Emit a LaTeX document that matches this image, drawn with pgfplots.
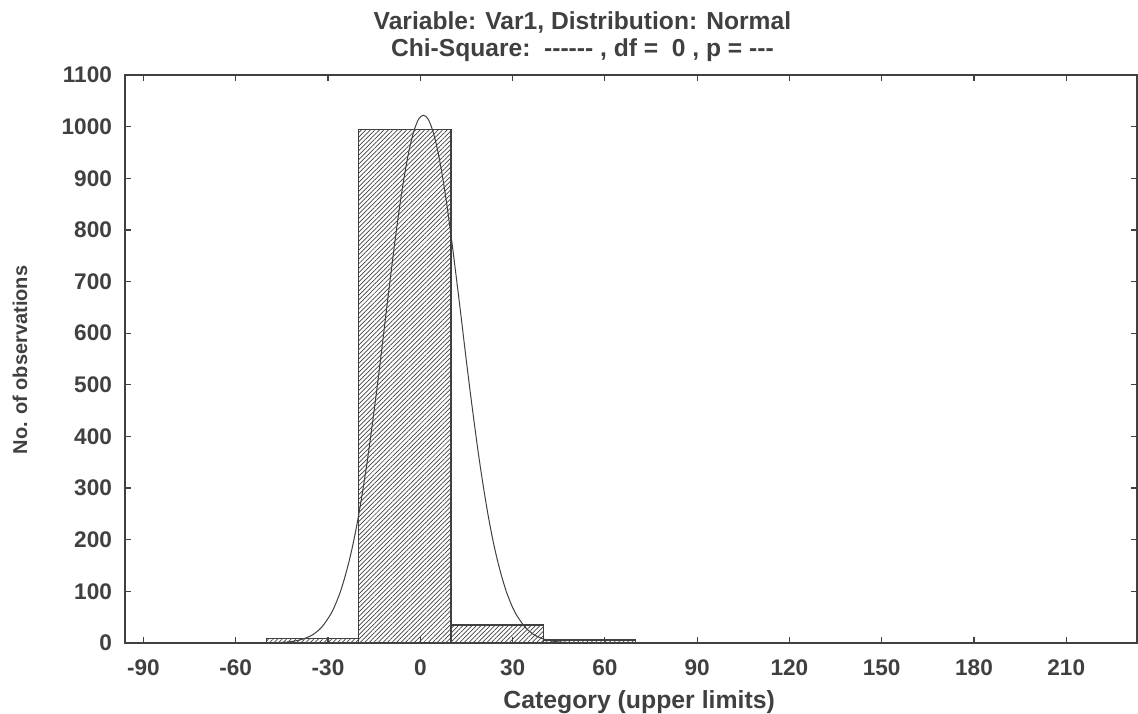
\documentclass[border=0pt]{standalone}
\usepackage{fontspec}
\setmainfont{Liberation Sans}
\usepackage{pgfplots}
\pgfplotsset{compat=1.18}
\usetikzlibrary{patterns.meta}
\definecolor{ink}{HTML}{404040}
\begin{document}
\begin{tikzpicture}
\begin{axis}[
  scale only axis,
  width=506pt, height=284pt,
  xmin=-96, xmax=233,
  ymin=0, ymax=1100,
  xtick={-90,-60,...,210},
  ytick={0,100,...,1100},
  tick align=inside,
  major tick length=3pt,
  axis line style={ink, line width=0.7pt},
  tick style={ink, line width=0.6pt},
  /pgf/number format/assume math mode=true,
  /pgf/number format/1000 sep={},
  ticklabel style={font=\fontsize{11.3}{13}\selectfont\bfseries, text=ink},
  yticklabel style={xshift=-3pt},
  xticklabel style={yshift=-5pt},
  clip=false,
]
\addplot[ybar interval, draw=ink, line width=0.6pt,
  pattern={Lines[angle=45,distance=1.6pt,line width=0.35pt]}, pattern color=ink]
  coordinates {(-50,8) (-20,995) (10,35) (40,6) (70,6)};
\addplot[ink, line width=0.5pt, smooth] coordinates {
(-96,0) (-60,0) (-50,0.2) (-47,0.6) (-44,1.6) (-41,3.6) (-38,7.9) (-35,16) (-32,31) (-29,57)
(-27.5,76) (-26,99) (-24.5,128) (-23,162) (-21.5,202) (-20,249) (-18.5,303) (-17,362)
(-15.5,428) (-14,497) (-12.5,570) (-11,645) (-9.5,718) (-8,789) (-6.5,854) (-5,911)
(-3.5,958) (-2,993) (-0.5,1015) (1,1022) (2.5,1015) (4,993) (5.5,958) (7,911)
(8.5,854) (10,789) (11.5,718) (13,645) (14.5,570) (16,497) (17.5,428) (19,362)
(20.5,303) (22,249) (23.5,202) (25,162) (26.5,128) (28,99) (29.5,76) (31,57)
(34,31) (37,16) (40,7.9) (43,3.6) (46,1.6) (49,0.6) (52,0.2) (60,0) (233,0)};
\coordinate (bl) at (rel axis cs:0,0);
\coordinate (tr) at (rel axis cs:1,1);
\node[font=\fontsize{12.3}{14}\selectfont\bfseries, text=ink] at ([yshift=26.5pt]rel axis cs:0.452,1) {Variable: Var1, Distribution: Normal};
\node[font=\fontsize{12.3}{14}\selectfont\bfseries, text=ink] at ([yshift=12.5pt]rel axis cs:0.452,1) {Chi-Square:\ \ -{}-{}-{}-{}-{}- , df =\ \ 0 , p = -{}-{}-};
\node[font=\fontsize{12.4}{14}\selectfont\bfseries, text=ink] at ([yshift=-29.5pt]rel axis cs:0.508,0) {Category (upper limits)};
\node[font=\fontsize{10}{12}\selectfont\bfseries, text=ink, rotate=90] at ([xshift=-52.5pt]rel axis cs:0,0.498) {No. of observations};
\end{axis}
\pgfresetboundingbox
\path ([shift={(-62.5pt,-35pt)}]bl) rectangle ([shift={(0.5pt,37.5pt)}]tr);
\end{tikzpicture}
\end{document}
